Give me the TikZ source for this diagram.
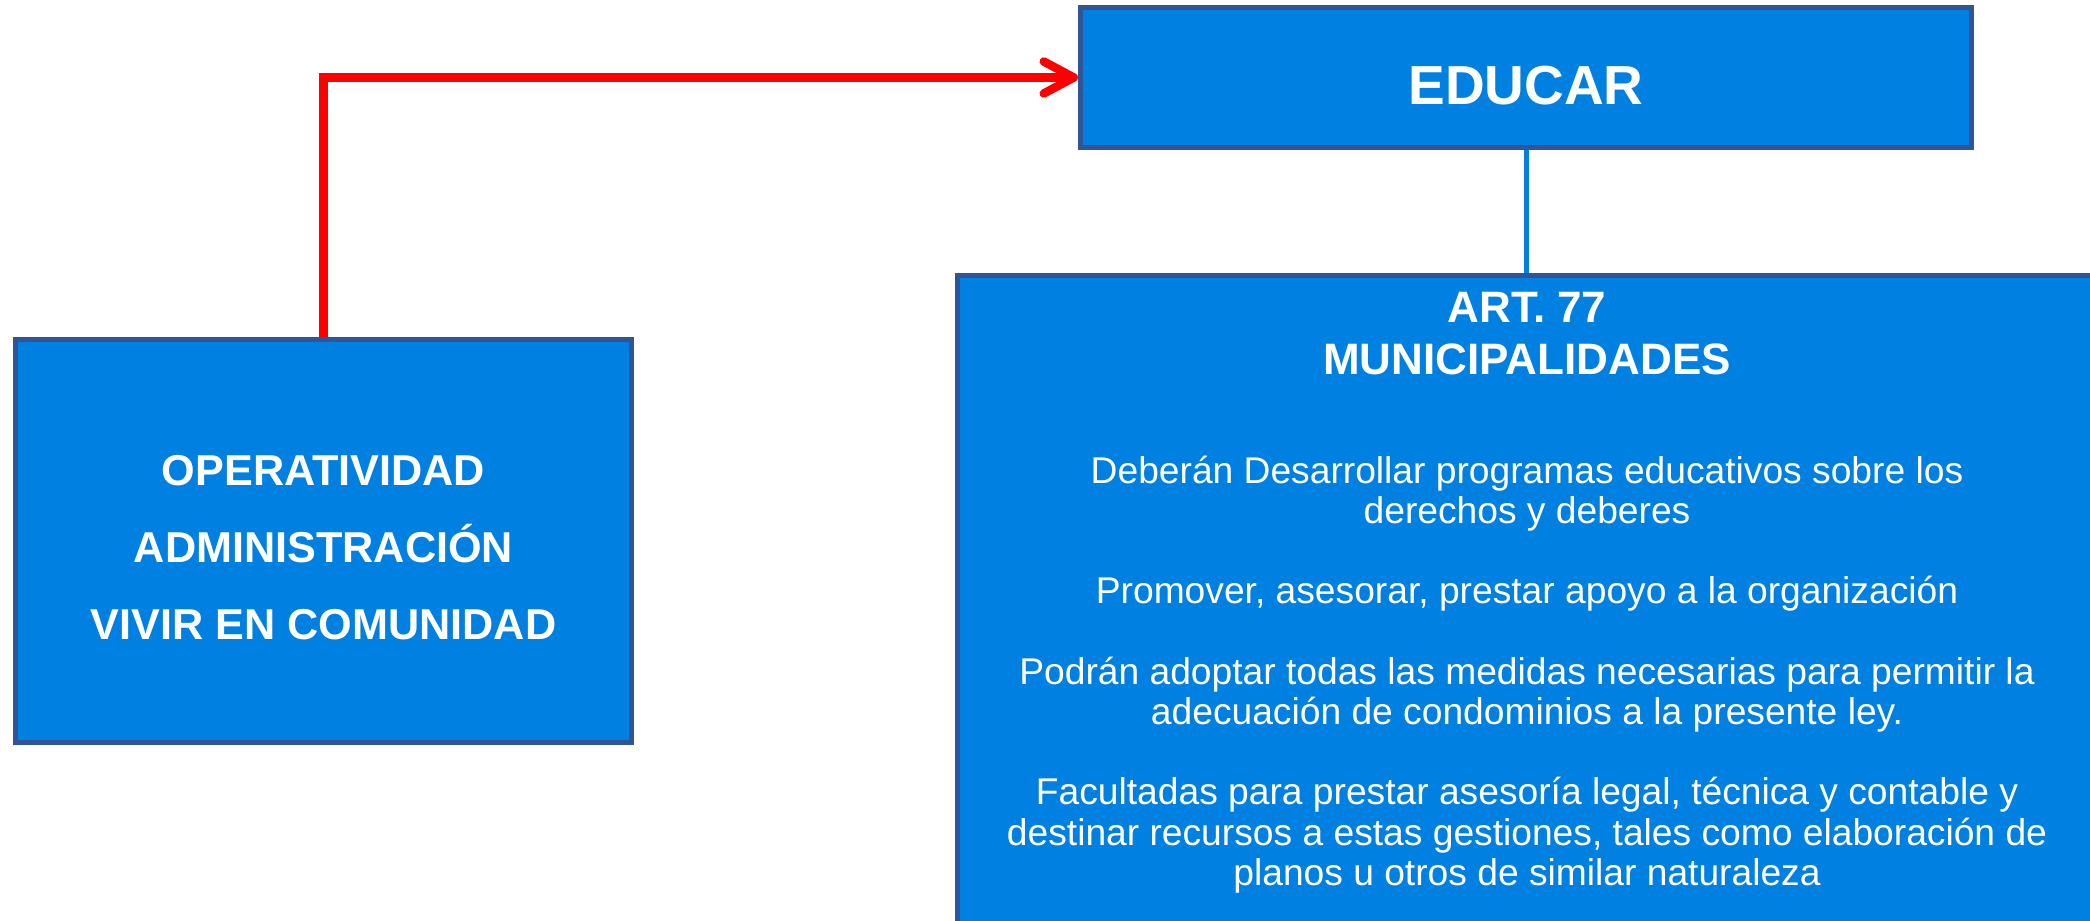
\documentclass[tikz,border=0pt]{standalone}
\usepackage{fontspec}
\setmainfont{Liberation Sans}
\usepackage{tikz}
\usetikzlibrary{arrows.meta}
\usetikzlibrary{positioning}
\usetikzlibrary{calc}

\definecolor{boxfill}{HTML}{0080E0}
\definecolor{boxline}{HTML}{2F5597}
\definecolor{linkred}{HTML}{FF0000}

\tikzset{
  bluebox/.style={draw=boxline, fill=boxfill, line width=2.5pt, inner sep=0pt},
  boxtext/.style={text=white, align=center, inner sep=0pt},
  redarrow/.style={draw=linkred, line width=4.25pt,
    -{Straight Barb[length=15pt, width=16pt, round]}},
  linkline/.style={draw=boxfill, line width=2.5pt}
}

\begin{document}
\begin{tikzpicture}[x=0.5pt, y=-0.5pt]

  \useasboundingbox (0,0) rectangle (2090,921);
  \clip (0,0) rectangle (2090,921);

  % Boxes
  \node[bluebox, minimum width=308pt, minimum height=201.5pt] (ops) at (323.5,541) {};
  \node[bluebox, minimum width=445.5pt, minimum height=70pt] (educar) at (1526,77.5) {};
  \node[bluebox, minimum width=569.5pt, minimum height=362pt, anchor=north] (muni) at (1527,273) {};

  % Texts in the boxes
  \node[boxtext, font=\bfseries\fontsize{21.6}{38.5}\selectfont] (opstext)
    at ([yshift=-3.5pt]ops.center) {OPERATIVIDAD\\ADMINISTRACIÓN\\VIVIR EN COMUNIDAD};
  \node[boxtext, font=\bfseries\fontsize{27.5}{33}\selectfont] (educartext)
    at ([yshift=-4pt]educar.center) {EDUCAR};
  \node[boxtext, font=\bfseries\fontsize{22}{26}\selectfont, anchor=north] (munihead)
    at ([yshift=-9.5pt]muni.north) {ART. 77\\MUNICIPALIDADES};
  \node[boxtext, font=\fontsize{18.6}{20.1}\selectfont, below=40pt of munihead] (munibody)
    {Deberán Desarrollar programas educativos sobre los\\
     derechos y deberes\\[20.1pt]
     Promover, asesorar, prestar apoyo a la organización\\[20.1pt]
     Podrán adoptar todas las medidas necesarias para permitir la\\
     adecuación de condominios a la presente ley.\\[20.1pt]
     Facultadas para prestar asesoría legal, técnica y contable y\\
     destinar recursos a estas gestiones, tales como elaboración de\\
     planos u otros de similar naturaleza};

  % Connectors
  \draw[redarrow] (ops.north) |- (educar.west);
  \draw[linkline] (educar.south) -- (educar.south |- muni.north);

\end{tikzpicture}
\end{document}
